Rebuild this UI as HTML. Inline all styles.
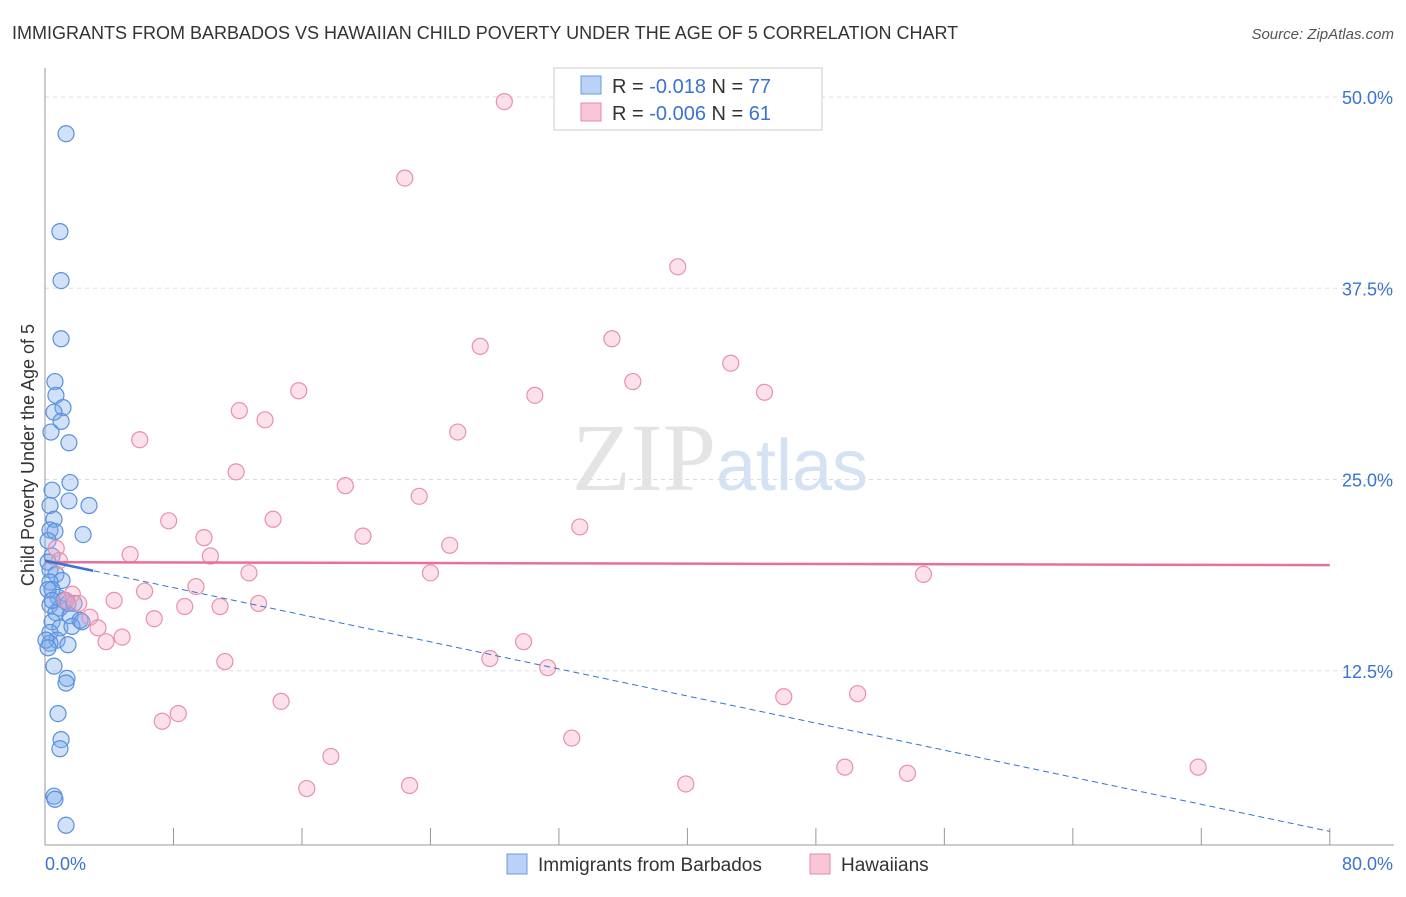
<!DOCTYPE html>
<html><head><meta charset="utf-8"><style>
body{margin:0;background:#fff;font-family:"Liberation Sans",sans-serif}
</style></head><body>
<svg id="c" width="1406" height="892" xmlns="http://www.w3.org/2000/svg" style="font-family:'Liberation Sans',sans-serif">
<text x="12" y="39" font-size="18" fill="#333">IMMIGRANTS FROM BARBADOS VS HAWAIIAN CHILD POVERTY UNDER THE AGE OF 5 CORRELATION CHART</text>
<text x="1394" y="39" font-size="15" fill="#555" font-style="italic" text-anchor="end">Source: ZipAtlas.com</text>
<text x="720" y="490" font-size="96" fill="#e4e4e4" text-anchor="middle" font-family="Liberation Serif">ZIP<tspan fill="#d4e2f4" font-family="Liberation Sans" font-size="72">atlas</tspan></text>
<g id="grid"></g><g id="axes"></g><g id="marks"></g>
<text transform="translate(34,455) rotate(-90)" font-size="18" fill="#333" text-anchor="middle">Child Poverty Under the Age of 5</text>
<g>
<rect x="554" y="68" width="268" height="62" fill="#fff" stroke="#ccc"/>
<rect x="581" y="76" width="20" height="18" fill="#b9d2f5" stroke="#6a9be0"/>
<rect x="581" y="103" width="20" height="18" fill="#f9c6d6" stroke="#e88aa8"/>
<text x="612" y="93" font-size="20" fill="#333">R = <tspan fill="#3a74d0">-0.018</tspan>   N = <tspan fill="#3a74d0">77</tspan></text>
<text x="612" y="120" font-size="20" fill="#333">R = <tspan fill="#3a74d0">-0.006</tspan>   N = <tspan fill="#3a74d0"> 61</tspan></text>
</g>
<g>
<rect x="507" y="854" width="20" height="20" fill="#b9d2f5" stroke="#6a9be0"/>
<text x="538" y="871" font-size="19" fill="#333">Immigrants from Barbados</text>
<rect x="810" y="854" width="20" height="20" fill="#f9c6d6" stroke="#e88aa8"/>
<text x="841" y="871" font-size="19" fill="#333">Hawaiians</text>
</g>
<text x="45" y="870" font-size="18" fill="#3a74d0">0.0%</text>
<text x="1393" y="870" font-size="18" fill="#3a74d0" text-anchor="end">80.0%</text>
</svg>
<script>
const blueX=[1.31,0.93,1.0,1.0,0.62,0.68,1.12,0.56,1.0,0.37,1.49,1.56,1.49,2.74,0.44,0.31,0.56,0.31,0.62,2.37,0.19,0.44,0.19,0.31,0.68,1.06,0.31,0.44,0.81,1.18,0.31,0.93,1.43,1.81,0.68,1.56,2.18,0.44,0.93,0.31,1.68,0.75,0.31,1.43,0.56,1.37,1.31,0.81,1.0,0.93,0.56,0.62,1.31,0.19,0.44,2.3,0.06,0.19];
const blueY=[47.6,41.2,38.0,34.2,31.4,30.5,29.7,29.4,28.8,28.1,27.4,24.8,23.6,23.3,24.3,23.3,22.4,21.7,21.6,21.4,21.0,20.0,19.6,19.1,18.8,18.4,18.3,17.8,17.3,17.1,16.8,16.6,16.9,16.9,16.3,16.1,15.8,15.7,15.3,15.0,15.4,14.5,14.3,14.2,12.8,12.0,11.7,9.7,8.0,7.4,4.3,4.1,2.4,17.8,17.1,15.7,14.5,14.0];
const pinkX=[28.6,22.4,39.4,27.1,35.3,42.7,15.8,36.6,30.5,44.8,12.1,13.7,5.9,25.7,11.9,18.7,23.3,7.7,14.2,33.3,19.8,9.9,25.2,5.3,10.3,12.7,24.0,54.7,9.4,6.2,1.7,4.3,8.7,10.9,13.3,2.1,6.8,2.8,3.3,4.8,3.8,29.8,27.7,31.3,11.2,14.7,46.0,50.6,8.3,7.3,32.8,17.8,49.8,53.7,71.8,16.3,22.7,39.9,0.7,0.9,1.3];
const pinkY=[49.7,44.7,38.9,33.7,34.2,32.6,30.8,31.4,30.5,30.7,29.5,28.9,27.6,28.1,25.5,24.6,23.9,22.3,22.4,21.9,21.3,21.2,20.7,20.1,20.0,18.9,18.9,18.8,18.0,17.7,17.5,17.1,16.7,16.7,16.9,16.9,15.9,16.0,15.3,14.7,14.4,14.4,13.3,12.7,13.1,10.5,10.8,11.0,9.7,9.2,8.1,6.9,6.2,5.8,6.2,4.8,5.0,5.1,20.5,19.7,17.1];
const yTicks=[12.5,25.0,37.5,50.0];
const xTicks=[0,8,16,24,32,40,48,56,64,72,80];
const blueTrend=[19.7,2.0];
const pinkTrend=[19.6,19.4];
const NS="http://www.w3.org/2000/svg";
const xs=v=>45+v*16.06, ys=v=>862-v*15.3;
function mk(t,a,p){const e=document.createElementNS(NS,t);for(const k in a)e.setAttribute(k,a[k]);document.getElementById(p).appendChild(e);return e;}
yTicks.forEach(t=>{
 const l=mk('line',{x1:45,x2:1394,y1:ys(t),y2:ys(t),stroke:'#ddd','stroke-dasharray':'4,4'},'grid');
 
 
 const tx=mk('text',{x:1393,y:ys(t)+7,'font-size':18,fill:'#3a74d0','text-anchor':'end'},'grid');
 tx.textContent=t.toFixed(1)+'%';
 
 
});
const ax=mk('line',{x1:45,x2:45,y1:68,y2:845,stroke:'#999'},'axes');


const bx=mk('line',{x1:45,x2:1394,y1:845,y2:845,stroke:'#999'},'axes');


xTicks.forEach(t=>{
 const l=mk('line',{x1:xs(t),x2:xs(t),y1:828,y2:845,stroke:'#999'},'axes');
 
 
});
blueX.forEach((x,i)=>{
 const c=mk('circle',{cx:xs(x),cy:ys(blueY[i]),r:8,fill:'rgba(120,170,235,0.35)',stroke:'#5a90dd','stroke-width':1.2},'marks');
 
 
});
pinkX.forEach((x,i)=>{
 const c=mk('circle',{cx:xs(x),cy:ys(pinkY[i]),r:8,fill:'rgba(245,170,195,0.35)',stroke:'#e890ae','stroke-width':1.2},'marks');
 
 
});
const pt=mk('line',{x1:xs(0),x2:xs(80),y1:ys(pinkTrend[0]),y2:ys(pinkTrend[1]),stroke:'#e8709a','stroke-width':2.5},'marks');


const bd=mk('line',{x1:xs(0),x2:xs(80),y1:ys(blueTrend[0]),y2:ys(blueTrend[1]),stroke:'#3a74d0','stroke-width':1,'stroke-dasharray':'6,4'},'marks');


const s=(blueTrend[1]-blueTrend[0])/80;
const bs=mk('line',{x1:xs(0),x2:xs(3),y1:ys(blueTrend[0]),y2:ys(blueTrend[0]+3*s),stroke:'#3a74d0','stroke-width':2.5},'marks');


</script>
</body></html>
